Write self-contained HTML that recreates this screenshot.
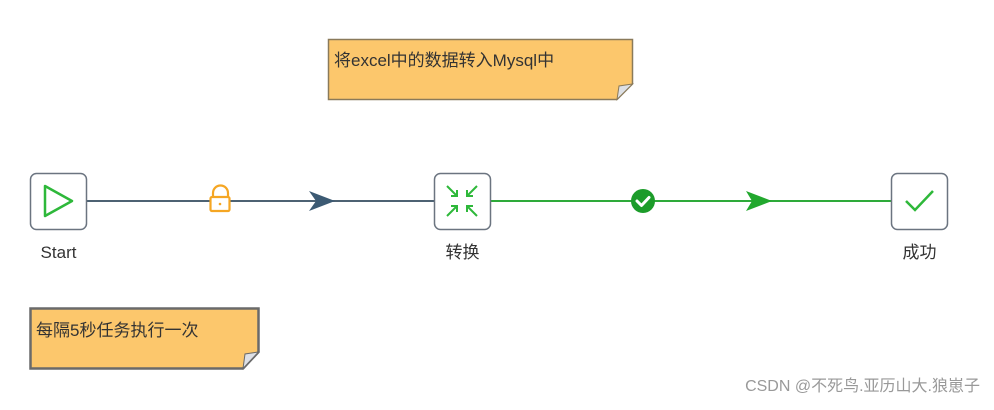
<!DOCTYPE html>
<html><head><meta charset="utf-8"><style>
body{margin:0;background:#fff;}
svg text{font-family:"Liberation Sans","Noto Sans CJK SC",sans-serif;}
</style></head><body>
<svg width="994" height="405" viewBox="0 0 994 405" xmlns="http://www.w3.org/2000/svg">
<rect width="994" height="405" fill="#fff"/>
<!-- note 1 -->
<path d="M328.5 39.5 H632.5 V84 L617 99.5 H328.5 Z" fill="#fcc76c" stroke="#8a7a5a" stroke-width="1.5"/>
<path d="M632.5 84 L617 99.5 L619 86 Z" fill="#dde0e6" stroke="#8a7a5a" stroke-width="1"/>
<text x="334" y="66" font-size="17" fill="#333">将excel中的数据转入Mysql中</text>
<!-- note 2 -->
<path d="M30.5 308.5 H258.5 V352 L243 368.5 H30.5 Z" fill="#fcc76c" stroke="#6a6a6a" stroke-width="2.5"/>
<path d="M258.5 352 L243 368.5 L245 354 Z" fill="#dde0e6" stroke="#6a6a6a" stroke-width="1"/>
<text x="36" y="336" font-size="17" fill="#333">每隔5秒任务执行一次</text>
<!-- lines -->
<line x1="87" y1="201" x2="434" y2="201" stroke="#4d6273" stroke-width="2"/>
<path d="M309 191 L335 201 L309 211 L316 201 Z" fill="#3c5a73"/>
<line x1="490" y1="201" x2="891" y2="201" stroke="#2eaa3a" stroke-width="2"/>
<path d="M746 191 L772 201 L746 211 L752 201 Z" fill="#22a82e"/>
<!-- lock -->
<path d="M213 197 V193 A6 6 0 0 1 228 193 V197" fill="none" stroke="#f5a623" stroke-width="2.2"/>
<rect x="210.5" y="197" width="19" height="14" rx="1.5" fill="#fff" stroke="#f5a623" stroke-width="2.2"/>
<circle cx="220" cy="204" r="1.3" fill="#f5a623"/>
<!-- check circle -->
<circle cx="643" cy="201" r="12" fill="#1c9c2a"/>
<path d="M637 201 L641.5 205.5 L649 197.5" fill="none" stroke="#fff" stroke-width="3" stroke-linecap="round" stroke-linejoin="round"/>
<!-- nodes -->
<rect x="30.5" y="173.5" width="56" height="56" rx="6" fill="#fff" stroke="#6b7480" stroke-width="1.5"/>
<path d="M45 186 L72 201 L45 216 Z" fill="none" stroke="#2eb83a" stroke-width="2.5" stroke-linejoin="round"/>
<rect x="434.5" y="173.5" width="56" height="56" rx="6" fill="#fff" stroke="#6b7480" stroke-width="1.5"/>
<g stroke="#2eb83a" stroke-width="2" fill="none">
<path d="M447 186 L457 196 M451 196 H457 V190"/>
<path d="M477 186 L467 196 M473 196 H467 V190"/>
<path d="M447 216 L457 206 M451 206 H457 V212"/>
<path d="M477 216 L467 206 M473 206 H467 V212"/>
</g>
<rect x="891.5" y="173.5" width="56" height="56" rx="6" fill="#fff" stroke="#6b7480" stroke-width="1.5"/>
<path d="M906 201 L915 210 L933 191" fill="none" stroke="#2eb83a" stroke-width="2.5"/>
<text x="58.5" y="258" font-size="17" fill="#333" text-anchor="middle">Start</text>
<text x="462.5" y="258" font-size="17" fill="#333" text-anchor="middle">转换</text>
<text x="919.5" y="258" font-size="17" fill="#333" text-anchor="middle">成功</text>
<text x="980" y="391" font-size="16" fill="#999" text-anchor="end">CSDN @不死鸟.亚历山大.狼崽子</text>
</svg>
</body></html>
